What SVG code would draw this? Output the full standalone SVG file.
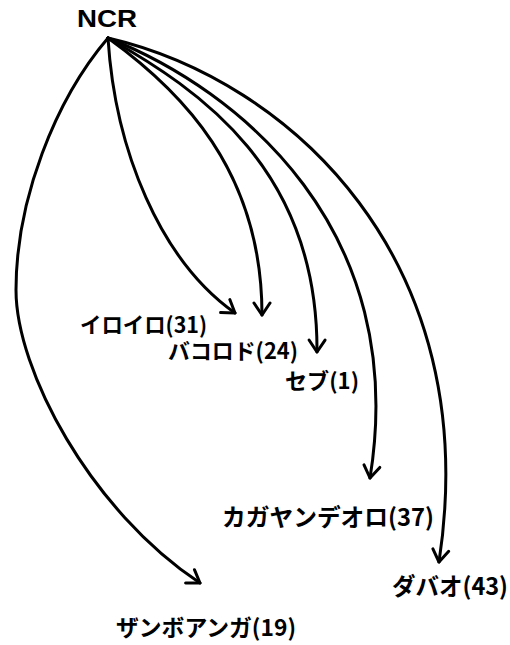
<svg xmlns="http://www.w3.org/2000/svg" width="510" height="645" viewBox="0 0 510 645">
<defs>
<style>
.edge{fill:none;stroke:#000;stroke-width:3;stroke-linecap:round;marker-end:url(#arr)}
.lbl{font-family:"Noto Sans CJK JP","Liberation Sans",sans-serif;font-weight:bold;fill:#000}
.ncr{font-family:"Liberation Sans",Arial,sans-serif;font-weight:bold;fill:#000}
</style>
<marker id="arr" markerUnits="userSpaceOnUse" viewBox="-15 -10 18 20" refX="0" refY="0" markerWidth="18" markerHeight="20" orient="auto" overflow="visible">
<path d="M-12,-8 L0,0 L-12,8" fill="none" stroke="#000" stroke-width="3" stroke-linecap="round" stroke-linejoin="round"/>
</marker>
</defs>
<rect width="510" height="645" fill="#fff"/>
<g id="connectors">
<path class="edge" d="M108,38 C115,150 160,260 235,313"/>
<path class="edge" d="M108,38 C180,90 262,170 262,315"/>
<path class="edge" d="M108,38 C200,90 318,170 317,352"/>
<path class="edge" d="M108,38 C240,90 410,230 370,478"/>
<path class="edge" d="M108,38 C290,80 485,260 439,562"/>
<path class="edge" d="M108,38 C55,100 16,200 16,290 C16,370 90,510 200,583"/>
</g>
<g id="ncr"><text class="ncr" x="77" y="27" font-size="23" textLength="60" lengthAdjust="spacingAndGlyphs">NCR</text></g>
<g id="iloilo"><text class="lbl" x="80" y="333" font-size="22" textLength="127" lengthAdjust="spacingAndGlyphs">イロイロ(31)</text></g>
<g id="bacolod"><text class="lbl" x="168" y="359" font-size="22" textLength="130" lengthAdjust="spacingAndGlyphs">バコロド(24)</text></g>
<g id="cebu"><text class="lbl" x="285" y="389" font-size="22" textLength="74" lengthAdjust="spacingAndGlyphs">セブ(1)</text></g>
<g id="cagayan"><text class="lbl" x="222" y="526" font-size="24" textLength="212" lengthAdjust="spacingAndGlyphs">カガヤンデオロ(37)</text></g>
<g id="davao"><text class="lbl" x="392" y="595" font-size="24" textLength="116" lengthAdjust="spacingAndGlyphs">ダバオ(43)</text></g>
<g id="zamboanga"><text class="lbl" x="116" y="636" font-size="23" textLength="180" lengthAdjust="spacingAndGlyphs">ザンボアンガ(19)</text></g>
</svg>
